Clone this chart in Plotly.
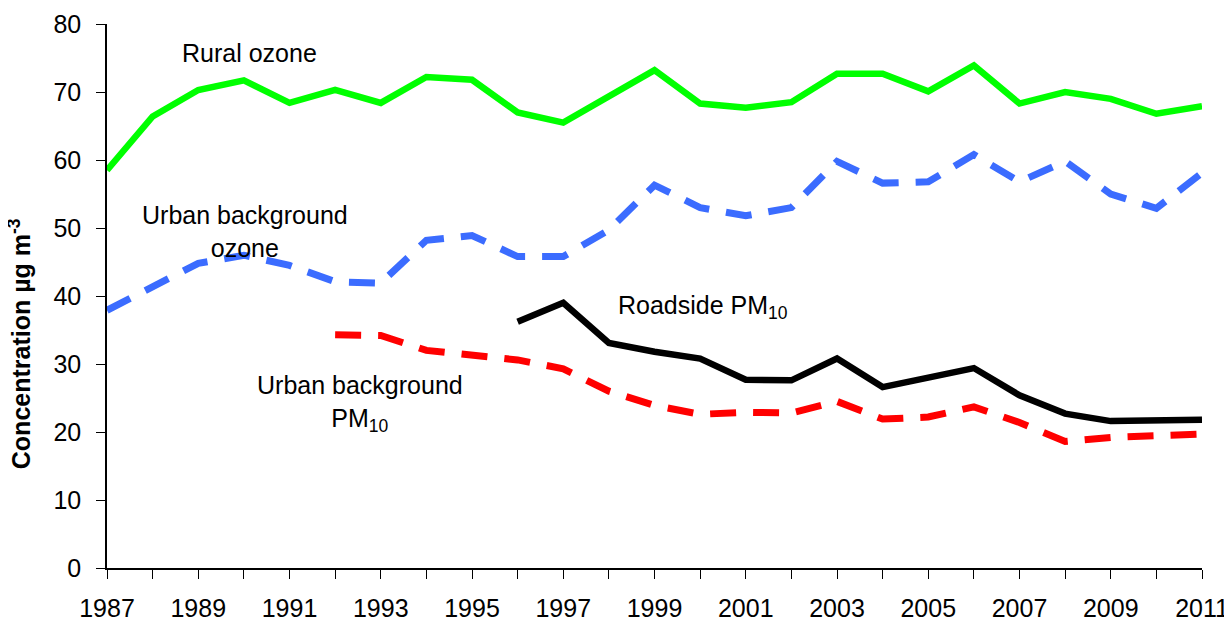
import plotly.graph_objects as go

years = list(range(1987, 2012))
rural_ozone = [58.5, 66.4, 70.3, 71.7, 68.4, 70.3, 68.4, 72.2, 71.8, 67.0, 65.5, 69.4,
               73.2, 68.3, 67.7, 68.5, 72.7, 72.7, 70.1, 73.9, 68.3, 70.0, 69.0, 66.8, 67.9]
urban_ozone = [37.9, 41.3, 44.8, 46.0, 44.5, 42.1, 41.9, 48.2, 48.9, 45.8, 45.8, 49.7,
               56.3, 53.0, 51.8, 53.0, 59.8, 56.6, 56.8, 60.8, 56.8, 59.8, 55.0, 52.9, 58.1]
pm_years = list(range(1992, 2012))
urban_pm10 = [34.3, 34.2, 32.0, 31.4, 30.6, 29.3, 26.0, 23.9, 22.6, 22.9, 22.8, 24.5,
              21.9, 22.2, 23.7, 21.4, 18.6, 19.2, 19.5, 19.7]
road_years = list(range(1996, 2012))
roadside_pm10 = [36.2, 39.0, 33.1, 31.8, 30.8, 27.7, 27.6, 30.8, 26.6, 28.0, 29.4, 25.4,
                 22.7, 21.6, 21.8, 21.8]
tick_labels = [str(y) if (y - 1987) % 2 == 0 else "" for y in years]

FONT = "Liberation Sans, Arial, sans-serif"

fig = go.Figure()
fig.add_trace(go.Scatter(x=years, y=rural_ozone, mode="lines",
                         line=dict(color="#00ff00", width=6.5), name="Rural ozone"))
fig.add_trace(go.Scatter(x=years, y=urban_ozone, mode="lines",
                         line=dict(color="#3b6cff", width=7, dash="26px,17px"),
                         name="Urban background ozone"))
fig.add_trace(go.Scatter(x=pm_years, y=urban_pm10, mode="lines",
                         line=dict(color="#ff0000", width=7, dash="26px,17px"),
                         name="Urban background PM10"))
fig.add_trace(go.Scatter(x=road_years, y=roadside_pm10, mode="lines",
                         line=dict(color="#000000", width=6.5), name="Roadside PM10"))

ann_font = dict(family=FONT, size=25, color="black")
fig.add_annotation(x=1990.13, y=75.7, text="Rural ozone", showarrow=False, font=ann_font)
fig.add_annotation(x=1990.02, y=49.5, text="Urban background<br>ozone", showarrow=False,
                   font=ann_font)
fig.add_annotation(x=1998.15, y=38.4, text="Roadside PM<sub>10</sub>", showarrow=False,
                   font=ann_font, xanchor="left")
fig.add_annotation(x=1992.55, y=24.2, text="Urban background<br>PM<sub>10</sub>",
                   showarrow=False, font=ann_font)
# y-axis title placed as a rotated annotation (sits lower than the plot centre)
fig.add_annotation(xref="paper", yref="paper", x=-0.096, y=0.413,
                   text="<b>Concentration µg m<sup>-3</sup></b>", textangle=-90,
                   showarrow=False, font=dict(family=FONT, size=25, color="black"))

fig.update_layout(
    width=1224, height=619,
    margin=dict(l=99, r=30, t=16, b=59),
    plot_bgcolor="white", paper_bgcolor="white",
    showlegend=False,
    font=dict(family=FONT, color="black"),
)
fig.update_xaxes(range=[1987, 2011], tickvals=years, ticktext=tick_labels,
                 ticks="outside", ticklen=9, tickcolor="black", showline=True,
                 linecolor="black", linewidth=1.5, showgrid=False, zeroline=False,
                 tickfont=dict(size=25, family=FONT), tickangle=0,
                 ticklabelstandoff=8, automargin=False)
fig.update_yaxes(range=[0, 80], dtick=10, ticks="outside", ticklen=9, tickcolor="black",
                 showline=True, linecolor="black", linewidth=1.5, showgrid=False,
                 zeroline=False, tickfont=dict(size=25, family=FONT),
                 ticklabelstandoff=10, automargin=False)

fig.write_html("out.html")
